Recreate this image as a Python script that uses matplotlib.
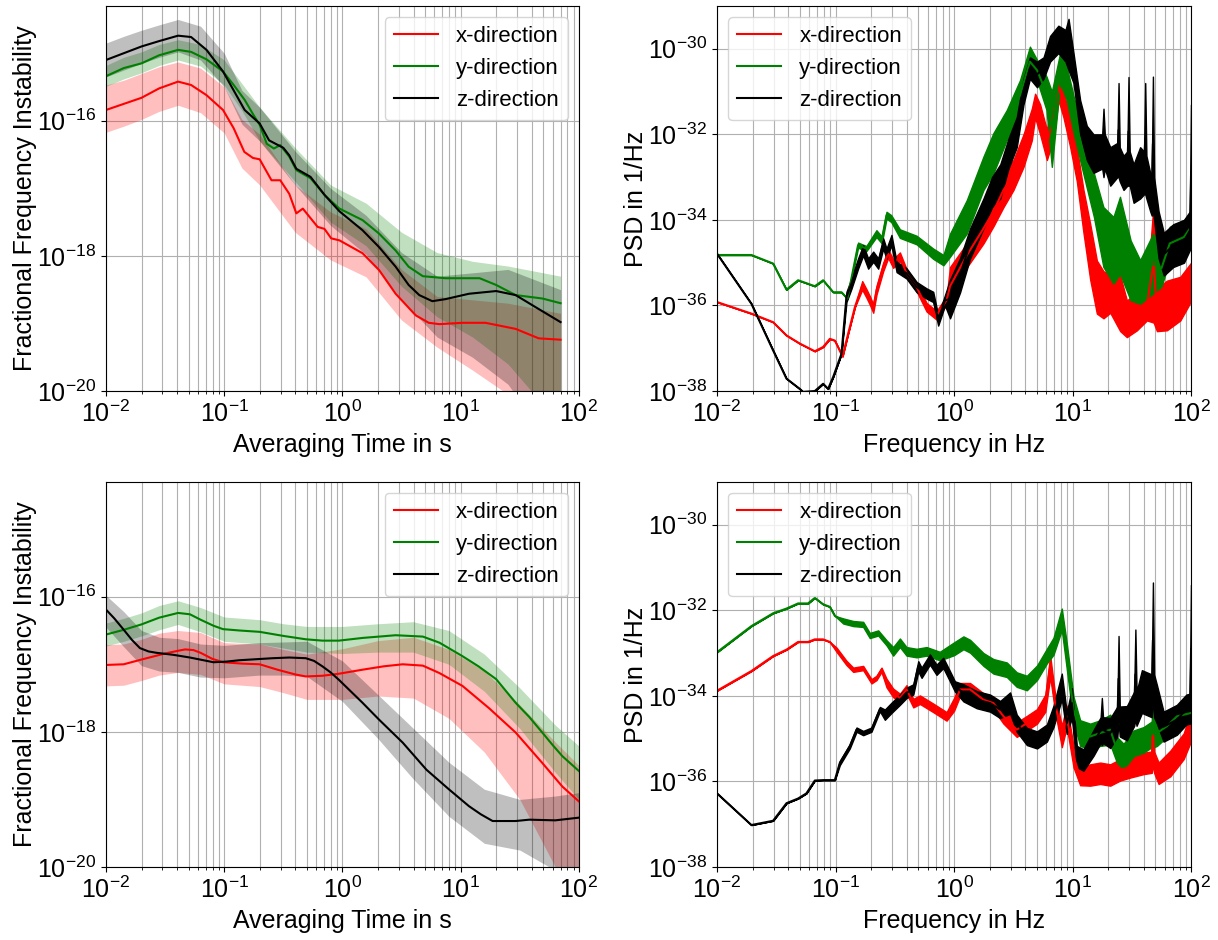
import numpy as np
import matplotlib
matplotlib.use("Agg")
import matplotlib.pyplot as plt
from matplotlib.ticker import LogLocator, NullLocator

plt.rcParams['font.family'] = ['Liberation Sans', 'DejaVu Sans']
plt.rcParams['mathtext.fontset'] = 'custom'
plt.rcParams['mathtext.rm'] = 'Liberation Sans'
plt.rcParams['mathtext.it'] = 'Liberation Sans:italic'
plt.rcParams['mathtext.bf'] = 'Liberation Sans:bold'
plt.rcParams['font.size'] = 18

labels = ['x-direction', 'y-direction', 'z-direction']
colors = ['red', 'green', 'black']

# ---- top left: instability (all values are log10) ----
tl_red_t = [-2.0, -1.85, -1.70, -1.55, -1.39, -1.28, -1.15, -1.01, -0.92, -0.83, -0.757, -0.70, -0.60, -0.526,
            -0.45, -0.39, -0.335, -0.21, -0.152, -0.095, -0.025, 0.17, 0.31, 0.45, 0.62, 0.73, 0.82, 1.015, 1.21,
            1.465, 1.66, 1.845]
tl_red_v = [-15.84, -15.75, -15.66, -15.52, -15.42, -15.47, -15.62, -15.84, -16.11, -16.46, -16.55, -16.57, -16.88,
            -16.88, -17.08, -17.37, -17.30, -17.57, -17.60, -17.74, -17.77, -17.96, -18.21, -18.56, -18.88, -18.99,
            -19.01, -18.99, -18.99, -19.08, -19.22, -19.24]
tl_grn_t = [-2.0, -1.85, -1.70, -1.55, -1.39, -1.28, -1.15, -1.01, -0.92, -0.827, -0.757, -0.70, -0.64, -0.58,
            -0.526, -0.45, -0.39, -0.27, -0.15, -0.025, 0.17, 0.31, 0.45, 0.56, 0.68, 0.87, 1.16, 1.30, 1.465, 1.69,
            1.845]
tl_grn_v = [-15.34, -15.22, -15.15, -15.03, -14.95, -14.98, -15.09, -15.27, -15.47, -15.69, -15.90, -16.06, -16.34,
            -16.41, -16.36, -16.53, -16.73, -16.85, -17.10, -17.30, -17.47, -17.67, -17.92, -18.16, -18.30, -18.33,
            -18.33, -18.43, -18.58, -18.63, -18.70]
tl_blk_t = [-2.0, -1.85, -1.70, -1.55, -1.39, -1.28, -1.15, -1.01, -0.92, -0.827, -0.70, -0.62, -0.555, -0.50,
            -0.45, -0.39, -0.27, -0.15, -0.025, 0.17, 0.31, 0.45, 0.56, 0.65, 0.76, 0.87, 1.07, 1.30, 1.465, 1.635,
            1.845]
tl_blk_v = [-15.10, -15.00, -14.90, -14.82, -14.74, -14.76, -14.95, -15.27, -15.55, -15.84, -16.04, -16.29, -16.35,
            -16.40, -16.51, -16.71, -16.83, -17.10, -17.34, -17.62, -17.87, -18.16, -18.43, -18.58, -18.67, -18.64,
            -18.56, -18.52, -18.58, -18.76, -18.98]
tl_band_t = [-2.0, -1.85, -1.7, -1.55, -1.39, -1.2, -1.0, -0.85, -0.7, -0.4, -0.1, 0.2, 0.5, 0.8, 1.1, 1.4, 1.845]
tl_red_hi = [-15.47, -15.40, -15.30, -15.20, -15.13, -15.22, -15.50, -15.98, -16.20, -16.95, -17.35, -17.60,
             -18.20, -18.60, -18.65, -18.70, -18.85]
tl_red_lo = [-16.17, -16.08, -15.98, -15.86, -15.77, -15.88, -16.18, -16.70, -16.95, -17.65, -18.06, -18.31,
             -18.95, -19.35, -19.69, -20.05, -21.5]
tl_grn_hi = [-15.18, -15.06, -14.98, -14.87, -14.80, -14.87, -15.10, -15.45, -15.80, -16.40, -16.95, -17.22,
             -17.65, -17.95, -18.08, -18.15, -18.30]
tl_grn_lo = [-15.49, -15.38, -15.29, -15.18, -15.10, -15.19, -15.47, -15.85, -16.30, -16.90, -17.50, -17.85,
             -18.45, -18.90, -19.20, -19.60, -20.5]
tl_blk_hi = [-14.85, -14.75, -14.66, -14.58, -14.50, -14.60, -15.00, -15.55, -15.80, -16.45, -17.00, -17.40,
             -17.95, -18.30, -18.25, -18.20, -18.50]
tl_blk_lo = [-15.35, -15.25, -15.15, -15.06, -14.98, -15.10, -15.50, -16.05, -16.30, -16.95, -17.55, -17.98,
             -18.65, -19.20, -19.50, -19.90, -21.0]

# ---- bottom left ----
bl_red_t = [-2.0, -1.85, -1.70, -1.50, -1.39, -1.33, -1.26, -1.20, -1.10, -1.01, -0.85, -0.70, -0.55, -0.40, -0.31,
            -0.17, -0.03, 0.17, 0.35, 0.51, 0.68, 0.82, 1.015, 1.24, 1.465, 1.69, 1.86, 2.0]
bl_red_v = [-17.01, -17.00, -16.93, -16.84, -16.80, -16.78, -16.79, -16.83, -16.92, -16.97, -16.99, -17.00, -17.08,
            -17.15, -17.18, -17.17, -17.14, -17.08, -17.03, -17.00, -17.02, -17.13, -17.32, -17.65, -18.01, -18.46,
            -18.81, -19.03]
bl_grn_t = [-2.0, -1.85, -1.70, -1.55, -1.39, -1.29, -1.20, -1.09, -1.01, -0.87, -0.70, -0.50, -0.31, -0.17, -0.03,
            0.17, 0.45, 0.68, 0.82, 1.015, 1.15, 1.30, 1.465, 1.58, 1.69, 1.78, 1.86, 2.0]
bl_grn_v = [-16.56, -16.49, -16.41, -16.31, -16.24, -16.26, -16.34, -16.43, -16.48, -16.50, -16.52, -16.58, -16.63,
            -16.65, -16.65, -16.61, -16.57, -16.59, -16.68, -16.88, -17.03, -17.22, -17.57, -17.78, -18.01, -18.20,
            -18.36, -18.58]
bl_blk_t = [-2.0, -1.93, -1.854, -1.78, -1.713, -1.64, -1.573, -1.43, -1.29, -1.09, -0.98, -0.87, -0.59, -0.45,
            -0.31, -0.24, -0.17, -0.10, -0.03, 0.07, 0.17, 0.31, 0.51, 0.71, 0.90, 1.07, 1.17, 1.27, 1.465, 1.58,
            1.80, 2.0]
bl_blk_v = [-16.19, -16.32, -16.48, -16.64, -16.76, -16.81, -16.83, -16.86, -16.90, -16.97, -16.96, -16.94, -16.91,
            -16.90, -16.91, -16.95, -17.03, -17.12, -17.23, -17.40, -17.57, -17.82, -18.16, -18.56, -18.85, -19.10,
            -19.22, -19.32, -19.32, -19.30, -19.31, -19.27]
bl_band_t = [-2.0, -1.85, -1.7, -1.55, -1.39, -1.2, -1.0, -0.7, -0.5, -0.3, 0.0, 0.3, 0.6, 0.9, 1.2, 1.5, 1.8, 2.0]
bl_red_hi = [-16.71, -16.70, -16.63, -16.54, -16.50, -16.53, -16.68, -16.70, -16.78, -16.85, -16.77, -16.65,
             -16.60, -16.78, -17.10, -17.60, -18.15, -18.50]
bl_red_lo = [-17.32, -17.31, -17.24, -17.16, -17.12, -17.15, -17.29, -17.33, -17.42, -17.52, -17.52, -17.47,
             -17.50, -17.80, -18.30, -19.00, -20.00, -20.80]
bl_grn_hi = [-16.39, -16.32, -16.24, -16.13, -16.06, -16.16, -16.30, -16.34, -16.40, -16.44, -16.44, -16.40,
             -16.37, -16.50, -16.85, -17.35, -17.90, -18.21]
bl_grn_lo = [-16.73, -16.66, -16.58, -16.49, -16.41, -16.52, -16.66, -16.70, -16.76, -16.82, -16.84, -16.82,
             -16.82, -17.00, -17.40, -17.95, -18.60, -19.00]
bl_blk_hi = [-15.98, -16.22, -16.50, -16.60, -16.62, -16.70, -16.72, -16.68, -16.67, -16.66, -16.95, -17.45,
             -17.95, -18.45, -18.85, -19.00, -18.95, -18.90]
bl_blk_lo = [-16.45, -16.74, -17.02, -17.10, -17.12, -17.19, -17.20, -17.16, -17.16, -17.18, -17.55, -18.10,
             -18.70, -19.25, -19.65, -19.75, -20.05, -20.30]

# ---- top right: PSD (log10 f, log10 centre, half spread in decades) ----
tr_red_f = [-2.0, -1.71, -1.527, -1.414, -1.302, -1.175, -1.105, -1.048, -1.006, -0.941, -0.894, -0.837, -0.775,
            -0.739, -0.711, -0.682, -0.654, -0.598, -0.556, -0.514, -0.457, -0.401, -0.316, -0.232, -0.148, -0.063,
            -0.034, 0.107, 0.248, 0.332, 0.417, 0.501, 0.586, 0.656, 0.684, 0.726, 0.783, 0.839, 0.881, 0.923, 0.980,
            1.036, 1.092, 1.149, 1.205, 1.261, 1.318, 1.402, 1.458, 1.543, 1.627, 1.684, 1.712, 1.796, 1.909, 2.0]
tr_red_c = [-35.92, -36.19, -36.39, -36.70, -36.89, -37.07, -36.97, -36.78, -36.82, -37.19, -36.66, -36.04, -35.53,
            -35.72, -35.88, -36.07, -35.64, -35.10, -34.79, -35.02, -34.86, -35.25, -35.57, -36.04, -36.23, -35.88,
            -35.55, -34.83, -34.20, -33.80, -33.30, -32.95, -32.38, -31.77, -31.33, -31.65, -32.25, -31.55, -30.85,
            -31.30, -31.95, -32.70, -33.80, -34.75, -35.57, -35.75, -35.72, -35.95, -36.31, -36.15, -36.00, -35.00,
            -36.10, -36.00, -35.84, -35.45]
tr_red_h = [0, 0, 0, 0, 0, 0, 0, 0, 0, 0, 0, 0, 0.1,
            0.1, 0.1, 0.1, 0.1, 0.1, 0.1, 0.1, 0.1, 0.1, 0.1, 0.1, 0.1, 0.1,
            0.45, 0.28, 0.35, 0.35, 0.4, 0.35, 0.38, 0.37, 0.28, 0.35, 0.35, 0.55, 0.35, 0.3, 0.35,
            0.4, 0.5, 0.65, 0.62, 0.55, 0.45, 0.65, 0.43, 0.43, 0.35, 1.4, 0.5, 0.58, 0.51, 0.45]
tr_grn_f = [-2.0, -1.71, -1.527, -1.414, -1.316, -1.175, -1.105, -1.02, -0.95, -0.90, -0.81, -0.74, -0.655, -0.61,
            -0.57, -0.53, -0.457, -0.316, -0.176, -0.09, -0.034, 0.107, 0.248, 0.332, 0.445, 0.557, 0.64, 0.70, 0.78,
            0.825, 0.895, 0.95, 1.01, 1.09, 1.18, 1.26, 1.345, 1.40, 1.49, 1.57, 1.68, 1.75, 1.82, 1.94, 2.0]
tr_grn_c = [-34.82, -34.82, -35.02, -35.63, -35.41, -35.55, -35.41, -35.69, -35.69, -35.84, -34.59, -34.67, -34.32,
            -34.47, -33.89, -33.97, -34.32, -34.47, -34.79, -34.94, -34.59, -33.93, -32.91, -32.44, -31.78, -31.08,
            -30.30, -30.50, -31.04, -31.88, -30.45, -30.80, -31.55, -32.44, -33.42, -34.40, -34.71, -34.36, -35.18,
            -35.45, -35.02, -35.13, -34.55, -34.40, -34.16]
tr_grn_h = [0, 0, 0, 0, 0, 0, 0, 0, 0, 0, 0.06, 0.06, 0.08, 0.08,
            0.08, 0.08, 0.1, 0.1, 0.12, 0.12, 0.27, 0.39, 0.39, 0.47, 0.35, 0.35, 0.35, 0.24, 0.39,
            0.88, 0.35, 0.39, 0.43, 0.47, 0.51, 0.70, 0.78, 0.90, 0.70, 0.51, 0.70, 0.43, 0.39, 0.40, 0.31]
tr_blk_f = [-2.0, -1.71, -1.527, -1.414, -1.302, -1.274, -1.175, -1.105, -1.063, -1.02, -0.95, -0.908, -0.866, -0.81,
            -0.767, -0.725, -0.682, -0.64, -0.598, -0.57, -0.528, -0.485, -0.401, -0.316, -0.232, -0.176, -0.134,
            -0.077, -0.034, 0.05, 0.135, 0.248, 0.32, 0.39, 0.459, 0.529, 0.586, 0.64, 0.70, 0.755, 0.81, 0.88, 0.94,
            0.966, 1.008, 1.064, 1.12, 1.177, 1.25, 1.261, 1.272, 1.318, 1.378, 1.388, 1.398, 1.43, 1.462, 1.472,
            1.482, 1.515, 1.57, 1.603, 1.613, 1.623, 1.655, 1.668, 1.678, 1.688, 1.726, 1.77, 1.85, 1.94, 1.99, 2.0]
tr_blk_c = [-34.79, -35.96, -37.05, -37.71, -37.95, -38.02, -38.00, -37.83, -37.95, -37.67, -37.13, -35.80, -35.49,
            -35.02, -34.71, -35.02, -34.86, -35.02, -34.55, -34.79, -34.47, -35.10, -35.25, -35.57, -35.72, -35.80,
            -36.35, -35.88, -35.85, -35.30, -34.55, -33.85, -33.35, -33.10, -32.45, -31.95, -31.00, -30.45, -30.60,
            -30.45, -30.00, -29.78, -29.93, -29.90, -30.45, -31.60, -32.20, -32.45, -32.40, -32.20, -32.40, -32.75,
            -32.60, -31.90, -32.70, -32.90, -32.80, -31.93, -32.80, -33.15, -32.90, -32.90, -32.10, -33.00, -33.35,
            -33.40, -32.22, -33.50, -34.35, -34.80, -34.60, -34.50, -34.25, -32.90]
tr_blk_h = [0, 0, 0, 0, 0, 0, 0, 0, 0, 0, 0, 0.12, 0.12, 0.12,
            0.12, 0.12, 0.12, 0.12, 0.12, 0.12, 0.12, 0.12, 0.12, 0.12, 0.12, 0.12, 0.12,
            0.12, 0.45, 0.4, 0.35, 0.35, 0.35, 0.4, 0.35, 0.35, 0.3, 0.25, 0.3, 0.25, 0.3, 0.32, 0.37,
            0.6, 0.35, 0.4, 0.4, 0.45, 0.4, 0.8, 0.4, 0.45, 0.4, 1.1, 0.4, 0.4, 0.4, 1.27,
            0.4, 0.45, 0.6, 0.5, 1.3, 0.5, 0.45, 0.5, 1.57, 0.5, 0.55, 0.5, 0.5, 0.5, 0.45, 1.6]

# ---- bottom right: PSD ----
br_red_f = [-2.0, -1.71, -1.527, -1.414, -1.316, -1.232, -1.175, -1.105, -1.048, -0.992, -0.908, -0.851, -0.767,
            -0.697, -0.654, -0.612, -0.57, -0.514, -0.457, -0.401, -0.344, -0.288, -0.176, -0.063, 0.0, 0.051, 0.135,
            0.248, 0.332, 0.417, 0.529, 0.614, 0.70, 0.77, 0.811, 0.853, 0.909, 0.951, 1.008, 1.064, 1.149, 1.233,
            1.318, 1.402, 1.487, 1.599, 1.668, 1.678, 1.688, 1.726, 1.825, 1.937, 2.0]
br_red_c = [-33.88, -33.42, -33.07, -32.92, -32.74, -32.74, -32.68, -32.68, -32.74, -32.92, -33.23, -33.39, -33.35,
            -33.66, -33.58, -33.39, -33.70, -33.93, -34.05, -33.85, -34.17, -34.09, -34.28, -34.48, -34.20, -33.85,
            -33.85, -34.09, -34.17, -34.48, -34.79, -34.64, -34.48, -34.17, -33.31, -34.17, -34.95, -34.48, -35.42,
            -35.89, -35.85, -35.81, -35.85, -35.73, -35.66, -35.58, -35.55, -34.70, -35.55, -35.81, -35.58, -35.18,
            -34.71]
br_red_h = [0, 0, 0, 0, 0, 0, 0, 0, 0, 0.05, 0.05, 0.05, 0.05,
            0.05, 0.05, 0.05, 0.1, 0.1, 0.1, 0.1, 0.1, 0.1, 0.1, 0.1, 0.15, 0.15, 0.15,
            0.15, 0.15, 0.17, 0.17, 0.17, 0.17, 0.2, 0.25, 0.2, 0.25, 0.25, 0.25, 0.2, 0.25, 0.25,
            0.25, 0.25, 0.25, 0.25, 0.25, 0.9, 0.25, 0.25, 0.3, 0.3, 0.35]
br_grn_f = [-2.0, -1.71, -1.527, -1.414, -1.316, -1.232, -1.175, -1.105, -1.048, -1.006, -0.935, -0.851, -0.767,
            -0.711, -0.64, -0.57, -0.514, -0.457, -0.401, -0.316, -0.232, -0.12, 0.0, 0.079, 0.135, 0.248, 0.332,
            0.445, 0.529, 0.614, 0.70, 0.783, 0.839, 0.909, 0.951, 1.008, 1.064, 1.149, 1.233, 1.318, 1.374, 1.43,
            1.515, 1.599, 1.668, 1.678, 1.688, 1.712, 1.796, 1.88, 2.0]
br_grn_c = [-32.98, -32.37, -32.07, -31.96, -31.84, -31.84, -31.71, -31.86, -31.92, -32.13, -32.25, -32.31, -32.33,
            -32.59, -32.53, -32.76, -32.96, -32.76, -32.96, -33.00, -32.96, -33.07, -32.90, -32.76, -32.84, -33.15,
            -33.31, -33.39, -33.62, -33.70, -33.46, -33.07, -32.84, -32.21, -33.07, -34.32, -34.87, -34.95, -34.87,
            -34.79, -35.26, -35.42, -35.11, -35.03, -34.90, -34.60, -34.90, -34.87, -34.71, -34.48, -34.40]
br_grn_h = [0, 0, 0, 0, 0, 0, 0, 0, 0, 0, 0.06, 0.06, 0.06,
            0.06, 0.06, 0.06, 0.1, 0.1, 0.1, 0.1, 0.1, 0.1, 0.15, 0.15, 0.15, 0.15, 0.17,
            0.17, 0.17, 0.17, 0.17, 0.17, 0.2, 0.25, 0.3, 0.3, 0.3, 0.3, 0.3, 0.35, 0.3, 0.3,
            0.3, 0.3, 0.3, 0.6, 0.3, 0.3, 0.25, 0.25, 0.2]
br_blk_f = [-2.0, -1.71, -1.527, -1.414, -1.316, -1.246, -1.175, -1.105, -1.006, -0.964, -0.88, -0.823, -0.767,
            -0.697, -0.626, -0.584, -0.528, -0.457, -0.401, -0.344, -0.302, -0.274, -0.204, -0.148, -0.091, -0.035,
            0.007, 0.079, 0.191, 0.304, 0.389, 0.473, 0.529, 0.614, 0.70, 0.783, 0.839, 0.909, 0.951, 0.994, 1.036,
            1.092, 1.177, 1.237, 1.247, 1.257, 1.318, 1.378, 1.388, 1.398, 1.458, 1.52, 1.53, 1.54, 1.585, 1.668,
            1.678, 1.688, 1.712, 1.768, 1.88, 1.96, 1.99, 2.0]
br_blk_c = [-36.28, -37.02, -36.92, -36.51, -36.40, -36.28, -35.98, -35.97, -35.97, -35.57, -35.18, -34.79, -34.87,
            -34.79, -34.31, -34.44, -34.28, -34.09, -33.93, -33.85, -33.31, -33.46, -33.15, -33.39, -33.23, -33.54,
            -33.78, -33.93, -34.09, -34.17, -34.32, -34.17, -34.64, -34.95, -35.03, -34.87, -34.48, -33.78, -34.64,
            -34.17, -35.42, -35.50, -35.10, -34.80, -34.60, -34.80, -34.87, -34.60, -33.60, -34.60, -34.64, -34.30,
            -33.50, -34.30, -33.90, -34.00, -32.70, -34.00, -34.20, -34.72, -34.56, -34.32, -34.30, -32.90]
br_blk_h = [0, 0, 0, 0, 0, 0, 0, 0, 0, 0.05, 0.05, 0.05, 0.05,
            0.05, 0.05, 0.12, 0.12, 0.12, 0.12, 0.12, 0.12, 0.12, 0.12, 0.12, 0.12, 0.12,
            0.12, 0.2, 0.2, 0.2, 0.2, 0.25, 0.2, 0.2, 0.2, 0.2, 0.25, 0.3, 0.25, 0.35, 0.25,
            0.25, 0.3, 0.3, 0.55, 0.3, 0.35, 0.35, 1.0, 0.35, 0.4, 0.4, 1.05, 0.4, 0.5, 0.5,
            1.35, 0.5, 0.45, 0.35, 0.35, 0.35, 0.35, 1.5]


def p10(a):
    return np.power(10.0, np.asarray(a, dtype=float))


def style_axes(ax, ylim, yticks, xlabel, ylabel):
    ax.set_xscale('log')
    ax.set_yscale('log')
    ax.set_xlim(1e-2, 1e2)
    ax.set_ylim(*ylim)
    ax.set_yticks(yticks)
    ax.yaxis.set_minor_locator(NullLocator())
    ax.xaxis.set_minor_locator(LogLocator(base=10, subs=np.arange(2, 10), numticks=20))
    ax.grid(which='both', axis='x', color='#b0b0b0', lw=0.8)
    ax.grid(which='major', axis='y', color='#b0b0b0', lw=0.8)
    ax.set_axisbelow(True)
    ax.set_xlabel(xlabel, fontsize=18)
    ax.set_ylabel(ylabel, fontsize=18, labelpad=0)
    ax.tick_params(labelsize=18)


fig = plt.figure(figsize=(12.18, 9.4), dpi=100)
ax_tl = fig.add_axes([0.0870, 0.5840, 0.3883, 0.4096])
ax_tr = fig.add_axes([0.5887, 0.5840, 0.3892, 0.4096])
ax_bl = fig.add_axes([0.0870, 0.0777, 0.3883, 0.4096])
ax_br = fig.add_axes([0.5887, 0.0777, 0.3892, 0.4096])

# instability panels
for ax, band_t, bands, lines in [
        (ax_tl, tl_band_t,
         [(tl_red_lo, tl_red_hi), (tl_grn_lo, tl_grn_hi), (tl_blk_lo, tl_blk_hi)],
         [(tl_red_t, tl_red_v), (tl_grn_t, tl_grn_v), (tl_blk_t, tl_blk_v)]),
        (ax_bl, bl_band_t,
         [(bl_red_lo, bl_red_hi), (bl_grn_lo, bl_grn_hi), (bl_blk_lo, bl_blk_hi)],
         [(bl_red_t, bl_red_v), (bl_grn_t, bl_grn_v), (bl_blk_t, bl_blk_v)])]:
    for (lo, hi), c in zip(bands, colors):
        ax.fill_between(p10(band_t), p10(lo), p10(hi), color=c, alpha=0.25, lw=0)
    for (t, v), c, lab in zip(lines, colors, labels):
        ax.plot(p10(t), p10(v), color=c, lw=1.5, label=lab)
    style_axes(ax, (1e-20, 5e-15), [1e-20, 1e-18, 1e-16],
               'Averaging Time in s', 'Fractional Frequency Instability')
    ax.legend(loc='upper right', fontsize=16)

# PSD panels
for ax, series in [
        (ax_tr, [(tr_red_f, tr_red_c, tr_red_h), (tr_grn_f, tr_grn_c, tr_grn_h), (tr_blk_f, tr_blk_c, tr_blk_h)]),
        (ax_br, [(br_red_f, br_red_c, br_red_h), (br_grn_f, br_grn_c, br_grn_h), (br_blk_f, br_blk_c, br_blk_h)])]:
    for (f, cen, half), c, lab in zip(series, colors, labels):
        cen = np.asarray(cen)
        half = np.asarray(half)
        ax.fill_between(p10(f), p10(cen - half), p10(cen + half), color=c, lw=1.0)
        ax.plot(p10(f), p10(cen), color=c, lw=1.5, label=lab)
    style_axes(ax, (1e-38, 1e-29), [1e-38, 1e-36, 1e-34, 1e-32, 1e-30],
               'Frequency in Hz', 'PSD in 1/Hz')
    ax.legend(loc='upper left', fontsize=16)

fig.savefig('out.png', dpi=100)
